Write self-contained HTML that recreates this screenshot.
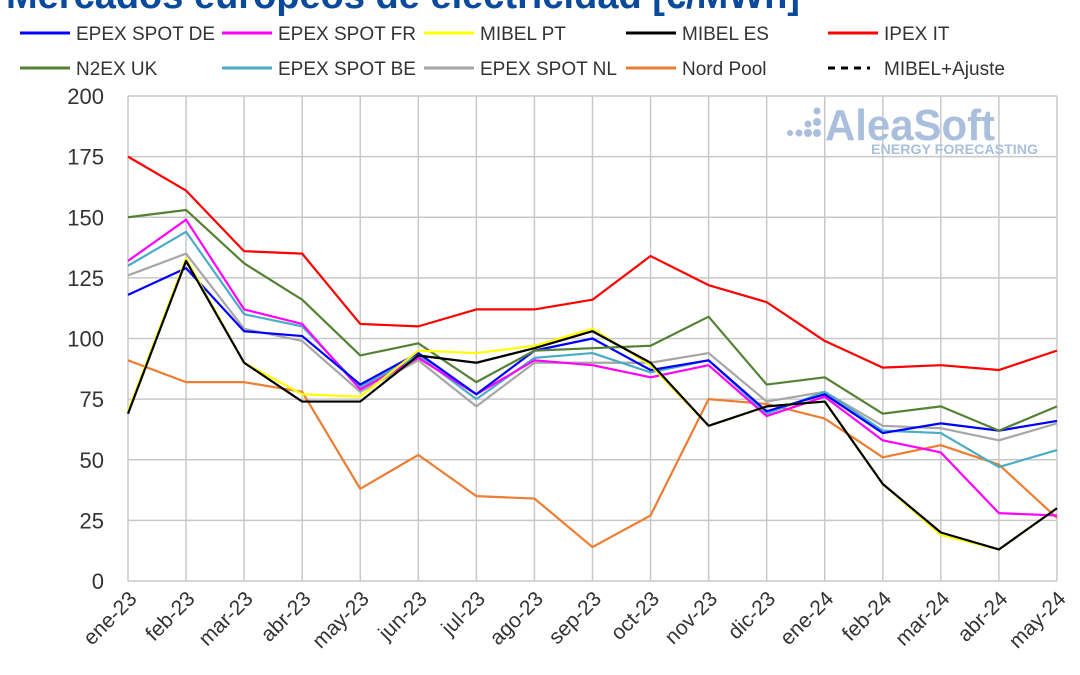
<!DOCTYPE html>
<html><head><meta charset="utf-8"><style>
body{margin:0;background:#fff;}
svg{display:block;font-family:"Liberation Sans",sans-serif;}
</style></head><body>
<svg width="1080" height="675" viewBox="0 0 1080 675" xmlns="http://www.w3.org/2000/svg">
<text x="6" y="8" font-size="38" font-weight="bold" fill="#0a4a9a">Mercados europeos de electricidad [€/MWh]</text>
<g font-size="19" fill="#333">
<line x1="20" y1="33" x2="70" y2="33" stroke="#0000ff" stroke-width="3"/><text x="76" y="40">EPEX SPOT DE</text>
<line x1="222" y1="33" x2="272" y2="33" stroke="#ff00ff" stroke-width="3"/><text x="278" y="40">EPEX SPOT FR</text>
<line x1="424" y1="33" x2="474" y2="33" stroke="#ffff00" stroke-width="3"/><text x="480" y="40">MIBEL PT</text>
<line x1="626" y1="33" x2="676" y2="33" stroke="#000" stroke-width="3"/><text x="682" y="40">MIBEL ES</text>
<line x1="828" y1="33" x2="878" y2="33" stroke="#ff0000" stroke-width="3"/><text x="884" y="40">IPEX IT</text>
<line x1="20" y1="68" x2="70" y2="68" stroke="#548235" stroke-width="3"/><text x="76" y="75">N2EX UK</text>
<line x1="222" y1="68" x2="272" y2="68" stroke="#4bacc6" stroke-width="3"/><text x="278" y="75">EPEX SPOT BE</text>
<line x1="424" y1="68" x2="474" y2="68" stroke="#a6a6a6" stroke-width="3"/><text x="480" y="75">EPEX SPOT NL</text>
<line x1="626" y1="68" x2="676" y2="68" stroke="#ed7d31" stroke-width="3"/><text x="682" y="75">Nord Pool</text>
<line x1="828" y1="68" x2="870" y2="68" stroke="#000" stroke-width="3" stroke-dasharray="7,6"/><text x="884" y="75">MIBEL+Ajuste</text>
</g>
<g stroke="#c8c8c8" stroke-width="1.5" id="grid"></g>
<g font-size="22" fill="#333" text-anchor="end" id="yl"></g>
<g font-size="21" fill="#333" id="xl"></g>
<g id="logo">
<g fill="#a9bfdc"><circle cx="790" cy="133" r="3"/><circle cx="799" cy="133" r="3.5"/><circle cx="808" cy="133" r="4"/><circle cx="808" cy="124" r="3.5"/><circle cx="817" cy="133" r="4"/><circle cx="817" cy="122" r="4"/><circle cx="817" cy="111" r="3.5"/></g>
<text x="825" y="140" font-size="44" font-weight="bold" fill="#a9bfdc" textLength="170" lengthAdjust="spacingAndGlyphs">AleaSoft</text>
<text x="871" y="154" font-size="14" font-weight="bold" fill="#a9bfdc" textLength="167" lengthAdjust="spacingAndGlyphs">ENERGY FORECASTING</text>
</g>
<g fill="none" stroke-width="2.2" stroke-linejoin="round" id="series"></g>
</svg>
<script>
const X=k=>128+58.06*k, Y=v=>581-v*2.425;
const ns="http://www.w3.org/2000/svg";
const g=document.getElementById('grid'),yl=document.getElementById('yl'),xl=document.getElementById('xl'),s=document.getElementById('series');
function el(t,a,p,txt){const e=document.createElementNS(ns,t);for(const k in a)e.setAttribute(k,a[k]);if(txt!==undefined)e.textContent=txt;p.appendChild(e);return e;}
for(let v=0;v<=200;v+=25){el('line',{x1:128,x2:1057,y1:Y(v),y2:Y(v)},g);el('text',{x:104,y:Y(v)+8},yl,v);}
const m=["ene-23","feb-23","mar-23","abr-23","may-23","jun-23","jul-23","ago-23","sep-23","oct-23","nov-23","dic-23","ene-24","feb-24","mar-24","abr-24","may-24"];
m.forEach((t,k)=>{el('line',{x1:X(k),x2:X(k),y1:Y(200),y2:Y(0)},g);const ax=X(k)+10,ay=600;el('text',{x:ax,y:ay,'text-anchor':'end',transform:`rotate(-45 ${ax} ${ay})`},xl,t);});
const D=[
["#ed7d31",[91,82,82,78,38,52,35,34,14,27,75,73,67,51,56,48,26]],
["#a6a6a6",[126,135,104,99,78,91,72,90,90,90,94,74,78,64,63,58,65]],
["#4bacc6",[130,144,110,105,80,93,75,92,94,86,91,69,78,62,61,47,54]],
["#ff00ff",[132,149,112,106,79,92,77,91,89,84,89,68,76,58,53,28,27]],
["#0000ff",[118,129,103,101,81,94,77,95,100,87,91,70,77,61,65,62,66]],
["#548235",[150,153,131,116,93,98,82,95,96,97,109,81,84,69,72,62,72]],
["#ff0000",[175,161,136,135,106,105,112,112,116,134,122,115,99,88,89,87,95]],
["#ffff00",[70,133,90,77,76,95,94,97,104,89,64,72,74,40,19,13,30]],
["#000000",[69,132,90,74,74,93,90,96,103,90,64,72,74,40,20,13,30]]];
D.forEach(([c,d])=>el('polyline',{stroke:c,points:d.map((v,k)=>X(k)+','+Y(v)).join(' ')},s));
</script>
</body></html>
